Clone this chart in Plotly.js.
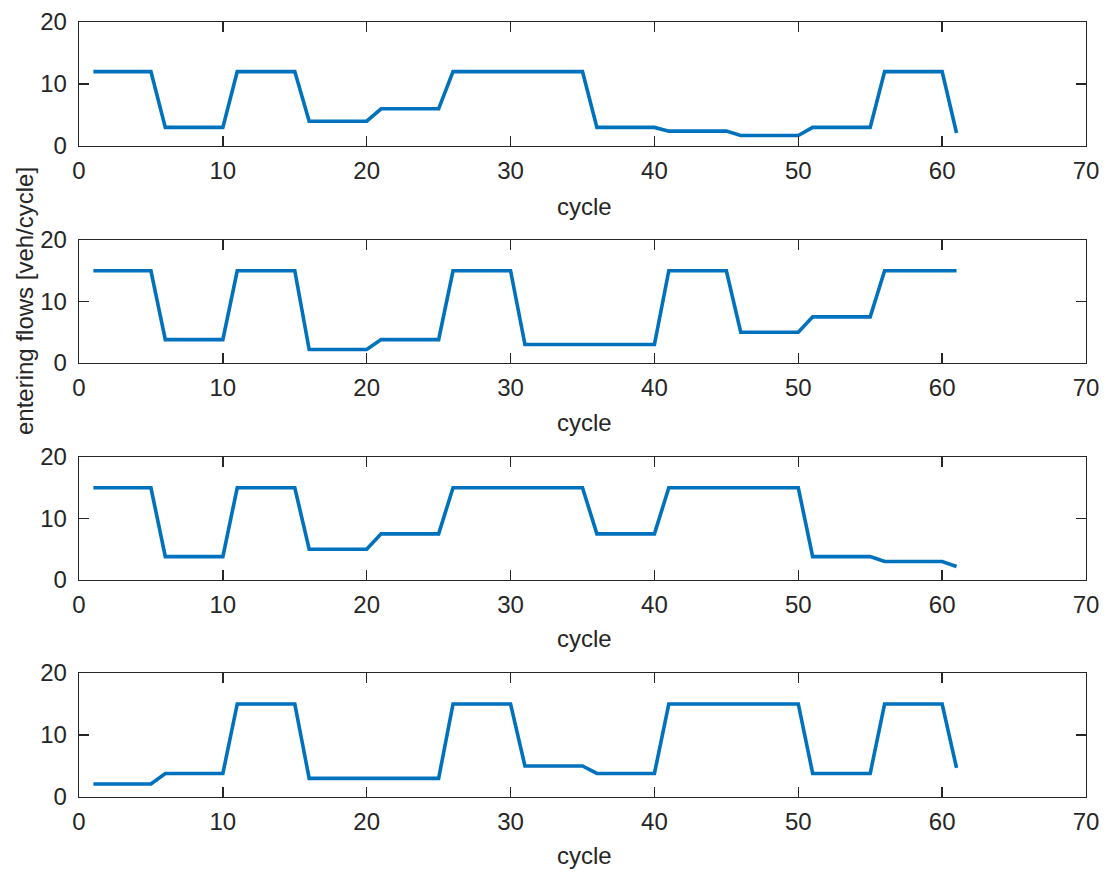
<!DOCTYPE html>
<html>
<head>
<meta charset="utf-8">
<script src="https://cdn.plot.ly/plotly-3.0.1.min.js"></script>
<style>html,body{margin:0;padding:0;background:#fff;}#chart{width:1111px;height:873px;}</style>
</head>
<body>
<div id="chart"></div>
<script>
const cycles = [1,2,3,4,5,6,7,8,9,10,11,12,13,14,15,16,17,18,19,20,21,22,23,24,25,26,27,28,29,30,31,32,33,34,35,36,37,38,39,40,41,42,43,44,45,46,47,48,49,50,51,52,53,54,55,56,57,58,59,60,61];

const flow1 = [12,12,12,12,12, 3,3,3,3,3, 12,12,12,12,12, 4,4,4,4,4, 6,6,6,6,6, 12,12,12,12,12, 12,12,12,12,12, 3,3,3,3,3, 2.4,2.4,2.4,2.4,2.4, 1.7,1.7,1.7,1.7,1.7, 3,3,3,3,3, 12,12,12,12,12, 2.1];
const flow2 = [15,15,15,15,15, 3.8,3.8,3.8,3.8,3.8, 15,15,15,15,15, 2.2,2.2,2.2,2.2,2.2, 3.8,3.8,3.8,3.8,3.8, 15,15,15,15,15, 3,3,3,3,3, 3,3,3,3,3, 15,15,15,15,15, 5,5,5,5,5, 7.5,7.5,7.5,7.5,7.5, 15,15,15,15,15, 15];
const flow3 = [15,15,15,15,15, 3.8,3.8,3.8,3.8,3.8, 15,15,15,15,15, 5,5,5,5,5, 7.5,7.5,7.5,7.5,7.5, 15,15,15,15,15, 15,15,15,15,15, 7.5,7.5,7.5,7.5,7.5, 15,15,15,15,15, 15,15,15,15,15, 3.8,3.8,3.8,3.8,3.8, 3,3,3,3,3, 2.2];
const flow4 = [2.1,2.1,2.1,2.1,2.1, 3.8,3.8,3.8,3.8,3.8, 15,15,15,15,15, 3,3,3,3,3, 3,3,3,3,3, 15,15,15,15,15, 5,5,5,5,5, 3.8,3.8,3.8,3.8,3.8, 15,15,15,15,15, 15,15,15,15,15, 3.8,3.8,3.8,3.8,3.8, 15,15,15,15,15, 4.7];

const series = [flow1, flow2, flow3, flow4];
const xTicks = [0,10,20,30,40,50,60,70];
const yTicks = [0,10,20];
const xLabel = "cycle";
const yLabel = "entering flows [veh/cycle]";

const lineColor = '#0072BD';
const axisColor = '#262626';
const fontFam = '"Liberation Sans", Arial, Helvetica, sans-serif';
const fs = 24;

const domains = [[0.84,1],[0.56,0.7187],[0.28,0.4387],[0,0.16]];
const cycleLabelY = [0.7625,0.4838,0.2051,-0.0749];

const traces = [];
const layout = {
  width:1111, height:873,
  margin:{l:79, r:25, t:22, b:76},
  paper_bgcolor:'#fff', plot_bgcolor:'#fff',
  showlegend:false,
  font:{family:fontFam, size:fs, color:axisColor},
  annotations:[]
};

series.forEach((ys, i) => {
  const n = i === 0 ? '' : String(i+1);
  traces.push({
    x: cycles, y: ys, type:'scatter', mode:'lines',
    xaxis:'x'+n, yaxis:'y'+n,
    line:{color:lineColor, width:3.6},
    hoverinfo:'skip'
  });
  const common = {
    showline:true, linecolor:axisColor, linewidth:1.3, mirror:'ticks',
    ticks:'inside', ticklen:10, tickwidth:1.3, tickcolor:axisColor,
    showgrid:false, zeroline:false,
    tickfont:{family:fontFam, size:fs, color:axisColor}
  };
  layout['xaxis'+n] = Object.assign({}, common, {
    range:[0,70], tickvals:xTicks, anchor:'y'+n, domain:[0,1],
    ticklabelstandoff:3
  });
  layout['yaxis'+n] = Object.assign({}, common, {
    range:[0,20], tickvals:yTicks, anchor:'x'+n, domain:domains[i],
    ticklabelstandoff:6
  });
  layout.annotations.push({
    text:xLabel, xref:'paper', yref:'paper', x:0.5017, y:cycleLabelY[i],
    xanchor:'center', yanchor:'middle', showarrow:false,
    font:{family:fontFam, size:fs, color:axisColor}
  });
});

layout.annotations.push({
  text:yLabel, xref:'paper', yref:'paper', x:-0.0546, y:0.64,
  xanchor:'center', yanchor:'middle', textangle:-90, showarrow:false,
  font:{family:fontFam, size:fs, color:axisColor}
});

Plotly.newPlot('chart', traces, layout, {displayModeBar:false, staticPlot:true});
</script>
</body>
</html>
